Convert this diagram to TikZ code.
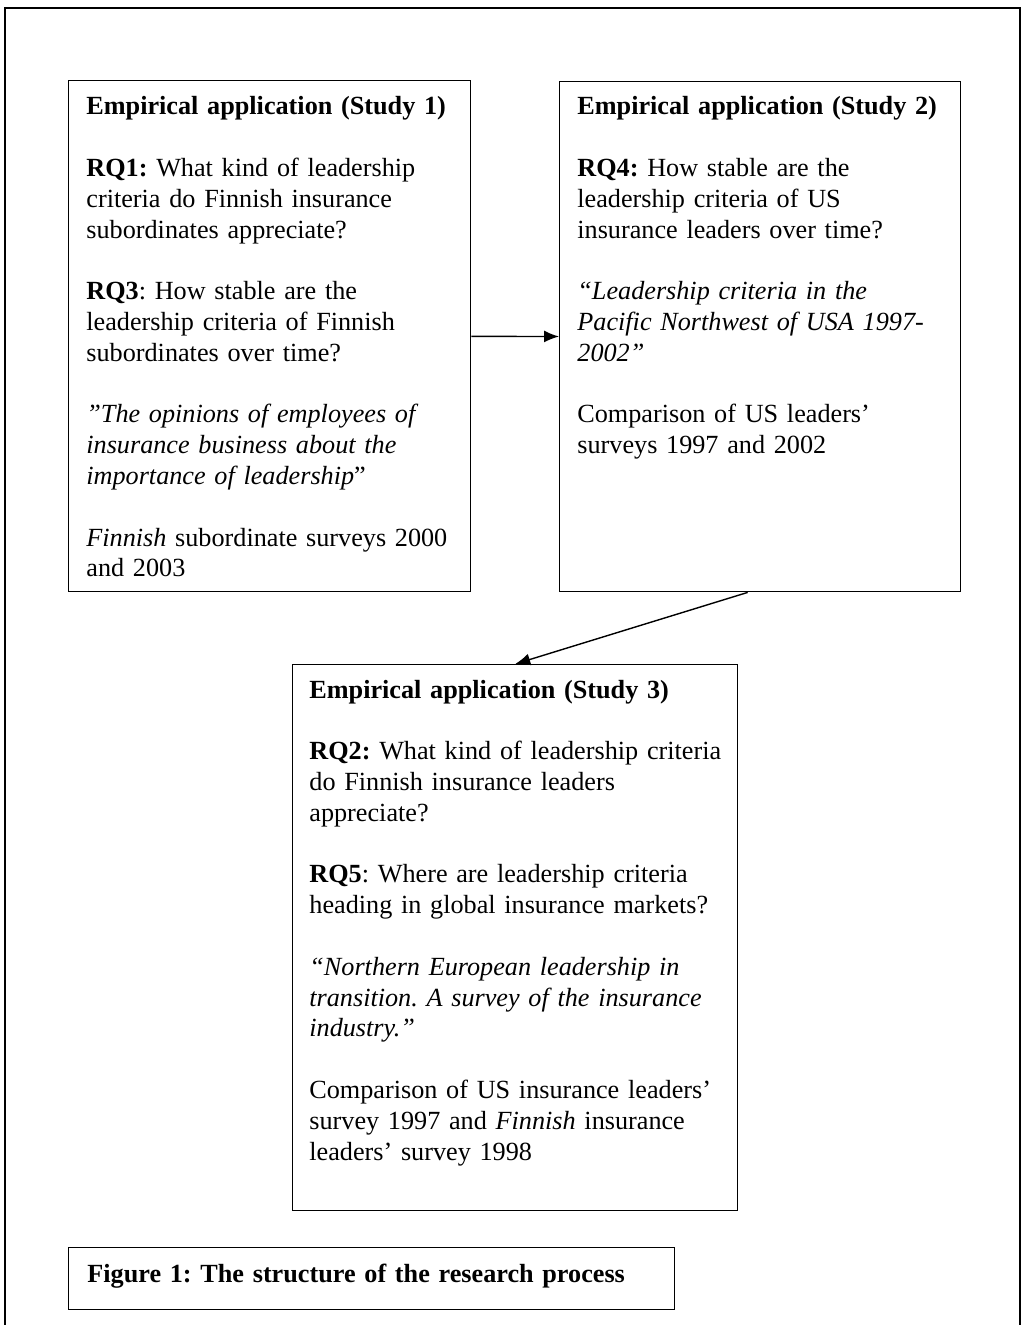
\documentclass[tikz,border=0pt]{standalone}
\usepackage{fontspec}
\setmainfont{Liberation Serif}
\usetikzlibrary{arrows.meta}
\tikzset{box/.style={draw,line width=0.7pt,anchor=north west,inner sep=0pt},
txt/.style={anchor=base west,inner sep=0pt,align=left,font=\fontsize{13.1}{15.4}\selectfont\frenchspacing},
link/.style={-{Latex[length=7.5pt,width=6pt]},line width=0.7pt}}
\newcommand{\paragap}{\\[15.4pt]}
\begin{document}
\begin{tikzpicture}[x=0.5pt,y=-0.5pt]
\useasboundingbox (0,0) rectangle (1025,1325);
\draw[line width=1.3pt](5,1325)--(5,8)--(1020,8)--(1020,1325);
% the three studies
\node[box,minimum width=201pt,minimum height=255.5pt](s1) at(68,80){};
\node[box,minimum width=200.5pt,minimum height=255pt](s2) at(559,81){};
\node[box,minimum width=222.5pt,minimum height=273pt](s3) at(292,664){};
\node[box,minimum width=303pt,minimum height=31pt](cap) at(68,1247){};
\node[txt,text width=195pt](t1) at(86,115){\textbf{Empirical application (Study 1)}\paragap
\textbf{RQ1:} What kind of leadership\\ criteria do Finnish insurance\\ subordinates appreciate?\paragap
\textbf{RQ3}: How stable are the\\ leadership criteria of Finnish\\ subordinates over time?\paragap
\textit{”The opinions of employees of\\ insurance business about the\\ importance of leadership}”\paragap
\textit{Finnish} subordinate surveys 2000\\ and 2003};
\node[txt,text width=195pt](t2) at(577,115){\textbf{Empirical application (Study 2)}\paragap
\textbf{RQ4:} How stable are the\\ leadership criteria of US\\ insurance leaders over time?\paragap
\textit{“Leadership criteria in the\\ Pacific Northwest of USA 1997-\\ 2002”}\paragap
Comparison of US leaders’\\ surveys 1997 and 2002};
\node[txt,text width=215pt](t3) at(309,698){\textbf{Empirical application (Study 3)}\paragap
\textbf{RQ2:} What kind of leadership criteria\\ do Finnish insurance leaders\\ appreciate?\paragap
\textbf{RQ5}: Where are leadership criteria\\ heading in global insurance markets?\paragap
\textit{“Northern European leadership in\\ transition. A survey of the insurance\\ industry.”}\paragap
Comparison of US insurance leaders’\\ survey 1997 and \textit{Finnish} insurance\\ leaders’ survey 1998};
\node[txt,text width=290pt](tcap) at(87,1282){\textbf{Figure 1: The structure of the research process}};
% connectors
\draw[link](s1)--(s2);
\draw[link]([xshift=-6.25pt]s2.south)--(s3.north);
\end{tikzpicture}
\end{document}
